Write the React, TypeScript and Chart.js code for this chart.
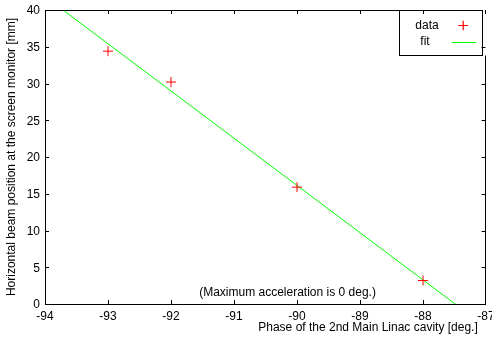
import React, { useEffect, useRef } from "react";
import { Chart, registerables } from "chart.js";

Chart.register(...registerables);

const dataX = [-93, -92, -90, -88];
const dataY = [34.4, 30.2, 15.9, 3.2];
const fitX = [-94, -87];
const fitY = [41.84, -3.15];
const xTicks = [-94, -93, -92, -91, -90, -89, -88, -87];
const yTicks = [0, 5, 10, 15, 20, 25, 30, 35, 40];
const xTitle = "Phase of the 2nd Main Linac cavity [deg.]";
const yTitle = "Horizontal beam position at the screen monitor [mm]";
const note = "(Maximum acceleration is 0 deg.)";
const legendLabels = ["data", "fit"];

const FONT = "12px 'Liberation Sans', Arial, sans-serif";

const framePlugin = {
  id: "gnuframe",
  afterDatasetsDraw(chart: any) {
    const { ctx, chartArea: a, scales } = chart;
    const xs = scales.x;
    const ys = scales.y;
    ctx.save();
    ctx.strokeStyle = "#000";
    ctx.lineWidth = 1;
    // frame
    ctx.strokeRect(Math.round(a.left) + 0.5, Math.round(a.top) + 0.5, Math.round(a.right - a.left) - 1, Math.round(a.bottom - a.top));
    // note text
    ctx.fillStyle = "#000";
    ctx.font = FONT;
    ctx.textAlign = "center";
    ctx.textBaseline = "middle";
    ctx.fillText(note, xs.getPixelForValue(-90.15), ys.getPixelForValue(1.6));
    // legend box
    const bx = a.right - 87, by = a.top, bw = 83, bh = 45;
    ctx.fillStyle = "#fff";
    ctx.fillRect(bx, by, a.right - bx + 6, bh + 0.5);
    ctx.strokeStyle = "#000";
    ctx.strokeRect(Math.round(bx) + 0.5, Math.round(by) + 0.5, bw, bh);
    // ticks (inward, mirrored)
    ctx.beginPath();
    const tl = 4;
    const right = Math.round(a.right) - 0.5;
    xTicks.forEach((v) => {
      const px = Math.min(Math.round(xs.getPixelForValue(v)) + 0.5, right);
      ctx.moveTo(px, a.bottom);
      ctx.lineTo(px, a.bottom - tl);
      ctx.moveTo(px, a.top);
      ctx.lineTo(px, a.top + tl);
    });
    yTicks.forEach((v) => {
      const py = Math.round(ys.getPixelForValue(v)) + 0.5;
      ctx.moveTo(a.left, py);
      ctx.lineTo(a.left + tl, py);
      if (py > by + bh + 1 || v === 35) {
        ctx.moveTo(right, py);
        ctx.lineTo(right - tl, py);
      }
    });
    ctx.stroke();
    // legend text
    ctx.fillStyle = "#000";
    ctx.fillText(legendLabels[0], bx + 28, by + 16);
    ctx.fillText(legendLabels[1], bx + 26, by + 32);
    // legend marks
    ctx.lineWidth = 1.2;
    ctx.strokeStyle = "rgb(255,0,0)";
    ctx.beginPath();
    ctx.moveTo(bx + 64.2, by + 10.7);
    ctx.lineTo(bx + 64.2, by + 20.3);
    ctx.moveTo(bx + 59.4, by + 15.5);
    ctx.lineTo(bx + 69, by + 15.5);
    ctx.stroke();
    ctx.lineWidth = 1;
    ctx.strokeStyle = "rgb(0,255,0)";
    ctx.beginPath();
    ctx.moveTo(bx + 53, by + 32.5);
    ctx.lineTo(bx + 77, by + 32.5);
    ctx.stroke();
    // axis titles
    ctx.fillStyle = "#000";
    ctx.textAlign = "center";
    ctx.fillText(xTitle, 368, 328);
    ctx.save();
    ctx.translate(12, (a.top + a.bottom) / 2);
    ctx.rotate(-Math.PI / 2);
    ctx.fillText(yTitle, 0, 0);
    ctx.restore();
    ctx.restore();
  },
};

export default function App() {
  const ref = useRef<HTMLCanvasElement>(null);
  useEffect(() => {
    if (!ref.current) return;
    const chart = new Chart(ref.current, {
      type: "scatter",
      data: {
        datasets: [
          {
            label: "fit",
            data: fitX.map((x, i) => ({ x, y: fitY[i] })),
            showLine: true,
            borderColor: "#00ff00",
            borderWidth: 1,
            pointRadius: 0,
            fill: false,
            order: 2,
          },
          {
            label: "data",
            data: dataX.map((x, i) => ({ x, y: dataY[i] })),
            showLine: false,
            pointStyle: "cross",
            pointRadius: 5,
            pointBorderColor: "#ff0000",
            pointBackgroundColor: "#ff0000",
            pointBorderWidth: 1,
            order: 1,
          },
        ],
      },
      options: {
        animation: false,
        responsive: false,
        maintainAspectRatio: false,
        layout: { padding: { top: 10, right: 5, left: 0, bottom: 0 } },
        plugins: { legend: { display: false }, tooltip: { enabled: false } },
        scales: {
          x: {
            type: "linear",
            min: -94,
            max: -87,
            afterBuildTicks: (s: any) => {
              s.ticks = xTicks.map((v) => ({ value: v }));
            },
            afterFit: (s: any) => {
              s.height = 34;
              s.paddingLeft = 0;
              s.paddingRight = 0;
            },
            grid: { display: false, drawTicks: false },
            border: { display: false },
            ticks: {
              color: "#000",
              padding: 5,
              maxRotation: 0,
              autoSkip: false,
              font: { family: "'Liberation Sans', Arial, sans-serif", size: 12 },
              callback: (v: any) => String(v),
            },
          },
          y: {
            type: "linear",
            min: 0,
            max: 40,
            afterBuildTicks: (s: any) => {
              s.ticks = yTicks.map((v) => ({ value: v }));
            },
            afterFit: (s: any) => {
              s.width = 45;
              s.paddingTop = 0;
              s.paddingBottom = 0;
            },
            grid: { display: false, drawTicks: false },
            border: { display: false },
            ticks: {
              color: "#000",
              padding: 5,
              labelOffset: 1,
              autoSkip: false,
              font: { family: "'Liberation Sans', Arial, sans-serif", size: 12 },
              callback: (v: any) => String(v),
            },
          },
        },
      },
      plugins: [framePlugin],
    });
    return () => chart.destroy();
  }, []);
  return (
    <div style={{ position: "fixed", left: 0, top: 0, width: 492, height: 338, background: "#fff" }}>
      <canvas ref={ref} width={492} height={338} style={{ width: 492, height: 338 }} />
    </div>
  );
}
